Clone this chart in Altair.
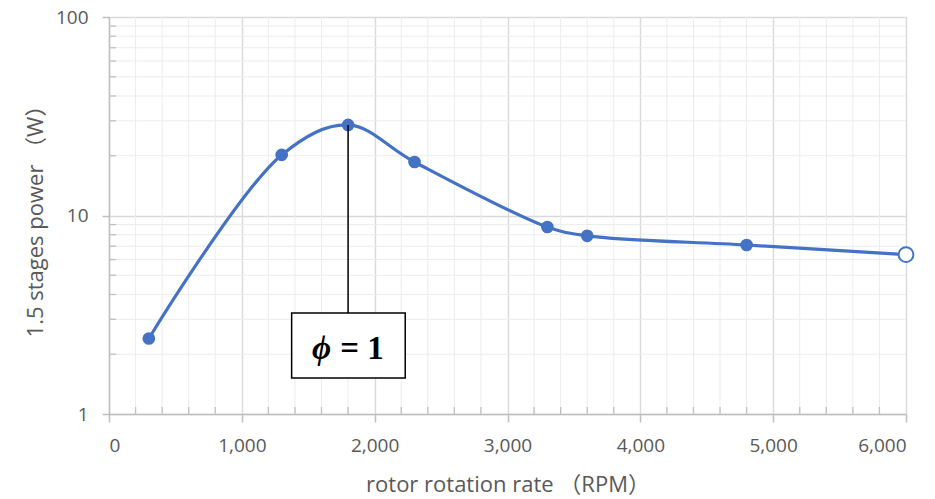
import altair as alt
import pandas as pd

# data
rpm = [300, 1300, 1800, 2300, 3300, 3600, 4800, 6000]
power = [2.4, 20.2, 28.6, 18.6, 8.75, 7.9, 7.1, 6.35]
measured = [True, True, True, True, True, True, True, False]

x_ticks = [0, 1000, 2000, 3000, 4000, 5000, 6000]
x_minor = [200, 400, 600, 800, 1200, 1400, 1600, 1800, 2200, 2400, 2600, 2800,
           3200, 3400, 3600, 3800, 4200, 4400, 4600, 4800, 5200, 5400, 5600, 5800]
y_ticks = [1, 10, 100]
y_minor = [2, 3, 4, 5, 6, 7, 8, 9, 20, 30, 40, 50, 60, 70, 80, 90]

# annotation (phi = 1) anchored at the peak point
ann_x = 1800
ann_y = 28.6
box_x = [1375]
box_x2 = [2230]
box_y = [3.23]
box_y2 = [1.52]
phi_label = "ϕ"
eq_label = "= 1"
label_y = 2.12
phi_x = 1600
eq_x = 1905

df = pd.DataFrame({"rpm": rpm, "power": power, "measured": measured})
xm = pd.DataFrame({"v": x_minor})
ym = pd.DataFrame({"v": y_minor})

FONT = "Open Sans, Noto Sans CJK JP, sans-serif"
GREY = "#595959"
BLUE = "#4472C4"

xs = alt.Scale(domain=[0, 6000], nice=False, zero=False)
ys = alt.Scale(type="log", domain=[1, 100], nice=False)

x_axis = alt.Axis(
    values=x_ticks, format=",d", title="rotor rotation rate （RPM）",
    grid=True, gridColor="#d9d9d9", gridWidth=1.4,
    domainColor="#bfbfbf", domainWidth=1.5, tickColor="#bfbfbf", tickWidth=1.5, tickSize=8,
    labelFont=FONT, labelFontSize=19, labelColor=GREY, labelPadding=14,
    titleFont=FONT, titleFontSize=22, titleFontWeight="normal", titleColor=GREY, titlePadding=19,
)
y_axis = alt.Axis(
    values=y_ticks, format="d", title="1.5 stages power （W）",
    grid=True, gridColor="#d9d9d9", gridWidth=1.4,
    domainColor="#bfbfbf", domainWidth=1.5, tickColor="#bfbfbf", tickWidth=1.5, tickSize=7,
    labelFont=FONT, labelFontSize=19, labelColor=GREY, labelPadding=14,
    titleFont=FONT, titleFontSize=22, titleFontWeight="normal", titleColor=GREY, titlePadding=8,
)

def X(field):
    return alt.X(field, scale=xs, axis=x_axis)

def Y(field):
    return alt.Y(field, scale=ys, axis=y_axis)

minor_x = alt.Chart(xm).mark_rule(color="#ececec", strokeWidth=1).encode(x=X("v:Q"))
minor_y = alt.Chart(ym).mark_rule(color="#ececec", strokeWidth=1).encode(y=Y("v:Q"))
minor_xtick = alt.Chart(xm).mark_rule(color="#bfbfbf", strokeWidth=1.3).encode(
    x=X("v:Q"), y=alt.value(390), y2=alt.value(397)
)
minor_ytick = alt.Chart(ym).mark_rule(color="#bfbfbf", strokeWidth=1.3).encode(
    y=Y("v:Q"), x=alt.value(0), x2=alt.value(7)
)

line = alt.Chart(df).mark_line(color=BLUE, strokeWidth=3.2, interpolate="catmull-rom").encode(
    x=X("rpm:Q"), y=Y("power:Q"),
)
pts_filled = alt.Chart(df).transform_filter("datum.measured").mark_point(
    filled=True, color=BLUE, size=160, opacity=1
).encode(x=X("rpm:Q"), y=Y("power:Q"))
pts_open = alt.Chart(df).transform_filter("!datum.measured").mark_point(
    filled=True, fill="white", stroke=BLUE, strokeWidth=2, size=220, opacity=1
).encode(x=X("rpm:Q"), y=Y("power:Q"))

ann = pd.DataFrame({"x": [ann_x], "y": [ann_y], "y2": box_y,
                    "bx": box_x, "bx2": box_x2, "by": box_y, "by2": box_y2,
                    "phi": [phi_label], "eq": [eq_label], "ly": [label_y],
                    "px": [phi_x], "ex": [eq_x]})

leader = alt.Chart(ann).mark_rule(color="black", strokeWidth=1.5).encode(
    x=X("x:Q"), y=Y("y:Q"), y2="y2:Q"
)
box = alt.Chart(ann).mark_rect(fill="white", stroke="black", strokeWidth=1.5).encode(
    x=X("bx:Q"), x2="bx2:Q", y=Y("by:Q"), y2="by2:Q"
)
phi_txt = alt.Chart(ann).mark_text(
    font="Liberation Serif", fontSize=33, fontWeight="bold", fontStyle="italic", color="black"
).encode(x=X("px:Q"), y=Y("ly:Q"), text="phi:N")
eq_txt = alt.Chart(ann).mark_text(
    font="Liberation Serif", fontSize=33, fontWeight="bold", color="black"
).encode(x=X("ex:Q"), y=Y("ly:Q"), text="eq:N")

chart = alt.layer(
    minor_x, minor_y, minor_xtick, minor_ytick, line, pts_filled, pts_open,
    leader, box, phi_txt, eq_txt
).properties(
    width=797, height=397,
    autosize=alt.AutoSizeParams(type="none"),
    padding={"left": 109, "top": 17, "right": 29, "bottom": 85},
).configure_view(stroke=None).configure(background="white")

chart.save("out.html", embed_options={"renderer": "svg", "actions": False})
